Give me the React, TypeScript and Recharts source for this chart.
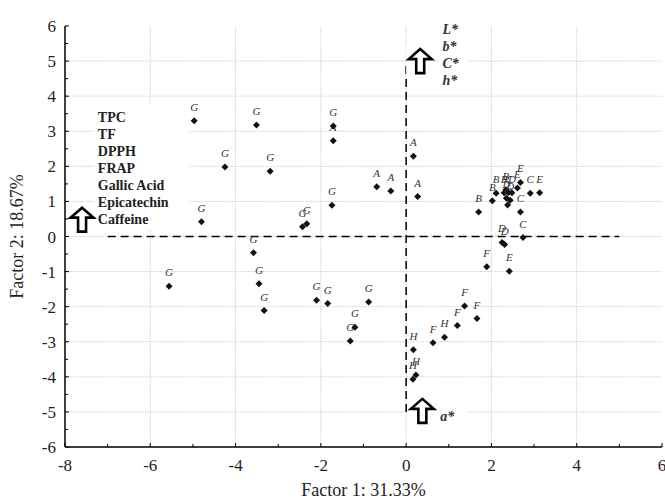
import { ScatterChart, Scatter, XAxis, YAxis, ReferenceLine, ReferenceDot } from "recharts";

// sample scores (Factor 1, Factor 2) by group letter
const groupA = [[-1.71, 2.73], [0.17, 2.29], [-0.69, 1.42], [-0.36, 1.3], [0.27, 1.14]];
const groupB = [[1.7, 0.7], [2.02, 1.02], [2.11, 1.23], [2.34, 1.33], [2.3, 1.25]];
const groupC = [[2.91, 1.23], [2.68, 0.7], [2.74, -0.03], [2.4, 1.25], [2.38, 0.9]];
const groupD = [[2.25, -0.17], [2.31, -0.23], [2.48, 1.25], [2.35, 1.09], [2.44, 1.03]];
const groupE = [[2.68, 1.54], [2.61, 1.38], [3.13, 1.25], [2.42, -0.99]];
const groupF = [[1.89, -0.86], [1.37, -1.98], [1.66, -2.34], [1.2, -2.54], [0.63, -3.03]];
const groupG = [
  [-4.97, 3.3], [-3.51, 3.18], [-4.25, 1.98], [-3.19, 1.86], [-4.8, 0.42], [-3.58, -0.46],
  [-1.71, 3.15], [-1.74, 0.89], [-2.43, 0.28], [-2.33, 0.36], [-5.56, -1.42], [-3.45, -1.35],
  [-3.33, -2.11], [-2.1, -1.82], [-1.84, -1.91], [-0.88, -1.87], [-1.2, -2.59], [-1.31, -2.98],
];
const groupH = [[0.9, -2.87], [0.17, -3.23], [0.23, -3.95], [0.16, -4.07]];

const groups: [string, number[][]][] = [
  ["A", groupA], ["B", groupB], ["C", groupC], ["D", groupD],
  ["E", groupE], ["F", groupF], ["G", groupG], ["H", groupH],
];

const xTicks = [-8, -7, -6, -5, -4, -3, -2, -1, 0, 1, 2, 3, 4, 5, 6];
const yTicks = [-6, -5.5, -5, -4.5, -4, -3.5, -3, -2.5, -2, -1.5, -1, -0.5, 0, 0.5, 1, 1.5, 2, 2.5, 3, 3.5, 4, 4.5, 5, 5.5, 6];
const xGrid = [-6, -4, -2, 0, 2, 4];
const yGrid = [-5, -4, -3, -2, -1, 0, 1, 2, 3, 4, 5];

const leftVars = ["TPC", "TF", "DPPH", "FRAP", "Gallic Acid", "Epicatechin", "Caffeine"];
const topVars = ["L*", "b*", "C*", "h*"];
const bottomVars = ["a*"];

const data = groups.flatMap(([label, pts]) => pts.map(([x, y]) => ({ x, y, label })));

const SERIF = "'Liberation Serif', 'Times New Roman', serif";

const XTick = (props: any) => {
  const { x, y, payload } = props;
  const major = payload.value % 2 === 0;
  return (
    <g>
      <line x1={x} x2={x} y1={y} y2={y - (major ? 4 : 3)} stroke="#000" />
      {major && (
        <text x={x} y={y + 24} textAnchor="middle" fontFamily={SERIF} fontSize={17} fill="#222">
          {payload.value}
        </text>
      )}
    </g>
  );
};

const YTick = (props: any) => {
  const { x, y, payload } = props;
  const major = Number.isInteger(payload.value);
  return (
    <g>
      <line x1={x} x2={x + (major ? 4 : 3)} y1={y} y2={y} stroke="#000" />
      {major && (
        <text x={x - 9} y={y + 6} textAnchor="end" fontFamily={SERIF} fontSize={17} fill="#222">
          {payload.value}
        </text>
      )}
    </g>
  );
};

const Point = (props: any) => {
  const { cx, cy, payload } = props;
  const s = 3.5;
  return (
    <g>
      <polygon points={`${cx},${cy - s} ${cx + s},${cy} ${cx},${cy + s} ${cx - s},${cy}`} fill="#111" />
      <text x={cx} y={cy - 10} textAnchor="middle" fontFamily={SERIF} fontStyle="italic" fontSize={11} fill="#333">
        {payload.label}
      </text>
    </g>
  );
};

const UpArrow = (props: any) => {
  const { cx, cy } = props;
  const top = cy - 12;
  const mid = top + 10;
  const bot = cy + 12;
  const hw = 11.5;
  const sw = 4;
  return (
    <g>
      <rect x={cx - 14} y={cy - 16} width={28} height={32} fill="#fff" />
      <polygon
        points={`${cx},${top} ${cx + hw},${mid} ${cx + sw},${mid} ${cx + sw},${bot} ${cx - sw},${bot} ${cx - sw},${mid} ${cx - hw},${mid}`}
        fill="#fff"
        stroke="#000"
        strokeWidth={2.6}
      />
    </g>
  );
};

const TextBlock = (items: string[], width: number, bold: boolean, italic: boolean) => (props: any) => {
  const { cx, cy } = props;
  return (
    <g>
      <rect x={cx - 4} y={cy - 12} width={width} height={items.length * 17 + 6} fill="#fff" />
      {items.map((t, i) => (
        <text
          key={t}
          x={cx}
          y={cy + 5 + i * 17}
          fontFamily={SERIF}
          fontSize={14}
          fontWeight={bold ? "bold" : "normal"}
          fontStyle={italic ? "italic" : "normal"}
          fill={italic ? "#333" : "#222"}
        >
          {t}
        </text>
      ))}
    </g>
  );
};

export default function App() {
  return (
    <div style={{ position: "absolute", left: 0, top: 0 }}>
      <ScatterChart width={665} height={502} margin={{ top: 26, right: 3, bottom: 0, left: 0 }}>
        <XAxis
          type="number"
          dataKey="x"
          domain={[-8, 6]}
          ticks={xTicks}
          interval={0}
          height={55}
          tickSize={0}
          tickMargin={0}
          tick={<XTick />}
          axisLine={{ stroke: "#000", strokeWidth: 1.5 }}
          label={{
            content: (p: any) => (
              <text x={p.viewBox.x + p.viewBox.width / 2} y={p.viewBox.y + 49} textAnchor="middle" fontFamily={SERIF} fontSize={18} fill="#222">
                Factor 1: 31.33%
              </text>
            ),
          }}
        />
        <YAxis
          type="number"
          dataKey="y"
          domain={[-6, 6]}
          ticks={yTicks}
          interval={0}
          width={65}
          tickSize={0}
          tickMargin={0}
          tick={<YTick />}
          axisLine={{ stroke: "#000", strokeWidth: 1.5 }}
          label={{
            content: (p: any) => (
              <text
                x={17}
                y={p.viewBox.y + p.viewBox.height / 2}
                transform={`rotate(-90 17 ${p.viewBox.y + p.viewBox.height / 2})`}
                textAnchor="middle"
                dominantBaseline="central"
                fontFamily={SERIF}
                fontSize={18}
                fill="#222"
              >
                Factor 2: 18.67%
              </text>
            ),
          }}
        />
        {yGrid.map((v) => (
          <ReferenceLine key={`gy${v}`} y={v} stroke="#d2d2d2" strokeDasharray="1.5 1" />
        ))}
        {xGrid.map((v) => (
          <ReferenceLine key={`gx${v}`} x={v} stroke="#d2d2d2" strokeDasharray="1.5 1" />
        ))}
        <ReferenceDot x={-7.23} y={3.41} r={0} shape={TextBlock(leftVars, 95, true, false)} />
        <ReferenceDot x={0.85} y={5.91} r={0} shape={TextBlock(topVars, 30, true, true)} />
        <ReferenceDot x={0.8} y={-5.11} r={0} shape={TextBlock(bottomVars, 30, true, true)} />
        <ReferenceLine segment={[{ x: -7, y: 0 }, { x: 5, y: 0 }]} stroke="#000" strokeWidth={1.5} strokeDasharray="8 5" />
        <ReferenceLine segment={[{ x: 0, y: -5 }, { x: 0, y: 5 }]} stroke="#000" strokeWidth={1.5} strokeDasharray="8 5" />
        <ReferenceDot x={-7.6} y={0.48} r={0} shape={UpArrow} />
        <ReferenceDot x={0.33} y={5.0} r={0} shape={UpArrow} />
        <ReferenceDot x={0.38} y={-4.97} r={0} shape={UpArrow} />
        <Scatter data={data} shape={Point} isAnimationActive={false} />
      </ScatterChart>
    </div>
  );
}
